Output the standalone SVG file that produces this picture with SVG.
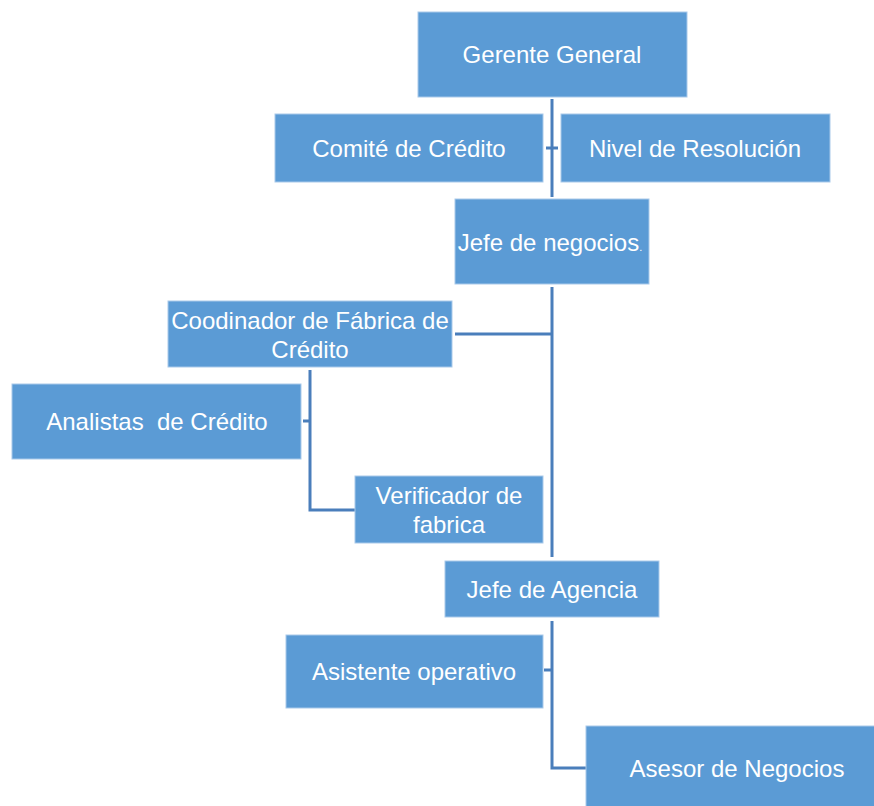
<svg xmlns="http://www.w3.org/2000/svg" width="874" height="806" viewBox="0 0 874 806">
<style>
.box{fill:#5B9BD5;stroke:#A9C9EA;stroke-width:1}
.t{font-family:"Liberation Sans",Arial,sans-serif;font-size:24px;fill:#ffffff;text-anchor:middle;white-space:pre}
.c{fill:none;stroke:#4A7EBB;stroke-width:3}
</style>
<rect width="874" height="806" fill="#ffffff"/>
<g id="connectors">
<line class="c" x1="552" y1="99" x2="552" y2="197"/>
<line class="c" x1="546" y1="148" x2="558" y2="148"/>
<line class="c" x1="552" y1="287" x2="552" y2="557"/>
<line class="c" x1="455" y1="334" x2="552" y2="334"/>
<polyline class="c" points="310,370 310,510 355,510"/>
<line class="c" x1="303" y1="421" x2="310" y2="421"/>
<polyline class="c" points="552,621 552,768 586,768"/>
<line class="c" x1="544" y1="670" x2="552" y2="670"/>
</g>
<g id="gerente-general"><rect class="box" x="418" y="12" width="269" height="85"/><text class="t" x="552" y="63">Gerente General</text></g>
<g id="comite-credito"><rect class="box" x="275" y="114" width="268" height="68"/><text class="t" x="409" y="157">Comité de Crédito</text></g>
<g id="nivel-resolucion"><rect class="box" x="561" y="114" width="269" height="68"/><text class="t" x="695" y="157">Nivel de Resolución</text></g>
<g id="jefe-negocios"><rect class="box" x="455" y="199" width="194" height="85"/><text class="t" x="550" y="251">Jefe de negocios<tspan font-size="11">.</tspan></text></g>
<g id="coordinador"><rect class="box" x="168" y="301" width="284" height="66"/><text class="t" x="310" y="329">Coodinador de Fábrica de</text><text class="t" x="310" y="358">Crédito</text></g>
<g id="analistas"><rect class="box" x="12" y="384" width="289" height="75"/><text class="t" x="157" y="430">Analistas  de Crédito</text></g>
<g id="verificador"><rect class="box" x="355" y="476" width="188" height="67"/><text class="t" x="449" y="504">Verificador de</text><text class="t" x="449" y="533">fabrica</text></g>
<g id="jefe-agencia"><rect class="box" x="445" y="561" width="214" height="56"/><text class="t" x="552" y="598">Jefe de Agencia</text></g>
<g id="asistente"><rect class="box" x="286" y="635" width="257" height="73"/><text class="t" x="414" y="680">Asistente operativo</text></g>
<g id="asesor"><rect class="box" x="586" y="726" width="290" height="82"/><text class="t" x="737" y="777">Asesor de Negocios</text></g>
</svg>
